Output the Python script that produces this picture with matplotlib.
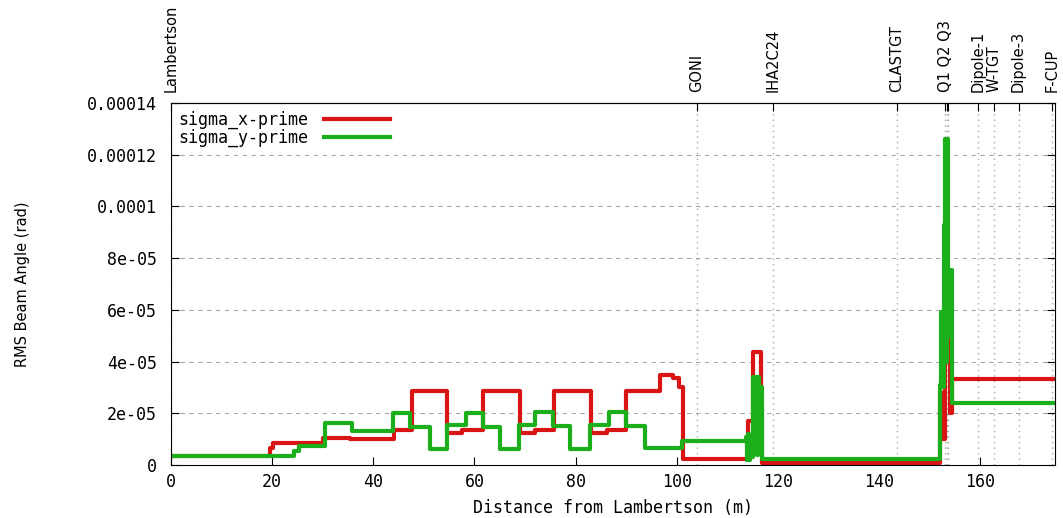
import numpy as np
import matplotlib
matplotlib.use('Agg')
import matplotlib.pyplot as plt

# beamline elements (position along line, m)
elem_names = ['Lambertson', 'GONI', 'IHA2C24', 'CLASTGT', 'Q1 Q2 Q3', '', '',
              'Dipole-1', 'W-TGT', 'Dipole-3', 'F-CUP']
elem_pos = [0.0, 104.0, 119.1, 143.5, 153.1, 153.4, 153.7, 159.5, 162.8, 167.6, 174.2]

# sigma_x-prime, step breakpoints (m) and values (1e-6 rad)
sx_s = [0, 19.6, 20.2, 30.0, 35.4, 44.0, 47.7, 54.6, 57.6, 61.7, 69.0, 72.0, 75.8,
        83.0, 86.2, 89.9, 96.6, 99.2, 100.5, 101.3, 114.0, 115.0, 115.8, 116.6, 116.9,
        152.1, 152.6, 153.0, 154.0, 154.4, 174.8]
sx_v = [3.5, 6.6, 8.5, 10.5, 10.0, 13.5, 28.7, 12.4, 13.5, 28.7, 12.4, 13.5, 28.7,
        12.4, 13.5, 28.7, 35.0, 33.5, 30.0, 2.2, 17.0, 43.7, 43.7, 22.0, 0.8,
        28.0, 10.0, 50.0, 20.0, 33.2, 33.2]

# sigma_y-prime
sy_s = [0, 24.3, 25.3, 30.5, 35.8, 43.9, 47.3, 51.2, 54.6, 58.4, 61.7, 65.0, 68.8,
        72.0, 75.5, 78.9, 82.9, 86.6, 90.0, 93.8, 101.0, 113.7, 113.9, 114.1, 114.3,
        114.5, 114.8, 115.0, 115.3, 115.5, 115.8, 116.0, 116.3, 116.6, 116.8,
        152.1, 152.3, 152.6, 152.75, 153.0, 153.2, 153.4, 153.6, 153.9, 154.4, 174.8]
sy_v = [3.6, 5.5, 7.4, 16.3, 13.2, 20.2, 14.8, 6.2, 15.5, 20.2, 14.8, 6.2, 15.5,
        20.6, 15.0, 6.2, 15.5, 20.6, 15.0, 6.6, 9.4, 11.0, 2.0, 12.0, 2.0,
        11.5, 3.0, 34.2, 5.0, 34.2, 4.0, 34.2, 8.0, 30.0, 2.2,
        31.0, 59.0, 30.0, 93.0, 126.0, 40.0, 126.0, 50.0, 75.5, 23.9, 23.9]

ytick_vals = [0, 2e-5, 4e-5, 6e-5, 8e-5, 1e-4, 1.2e-4, 1.4e-4]
ytick_labels = ['0', '2e-05', '4e-05', '6e-05', '8e-05', '0.0001', '0.00012', '0.00014']

mono = 'DejaVu Sans Mono'

fig = plt.figure(figsize=(10.63, 5.18), dpi=100)
ax = fig.add_axes([0.1609, 0.1023, 0.8316, 0.6988])

# grid
for y in ytick_vals[1:-1]:
    ax.axhline(y, color='#a8a8a8', lw=0.8, ls=(0, (4, 4)), zorder=0)
for p in elem_pos:
    ax.axvline(p, color='#a8a8a8', lw=1.0, ls=(0, (1, 3)), zorder=0)

ax.step(sx_s, np.array(sx_v) * 1e-6, where='post', color='#d81414', lw=3.0,
        label='sigma_x-prime')
ax.step(sy_s, np.array(sy_v) * 1e-6, where='post', color='#1bb01b', lw=3.0,
        label='sigma_y-prime')

ax.set_xlim(0, 174.8)
ax.set_ylim(0, 1.4e-4)
ax.set_xticks(np.arange(0, 161, 20))
ax.set_xticklabels([str(v) for v in range(0, 161, 20)], fontfamily=mono, fontsize=12)
ax.set_yticks(ytick_vals)
ax.set_yticklabels(ytick_labels, fontfamily=mono, fontsize=12)
ax.tick_params(axis='y', direction='in', length=6, right=True, pad=10)
ax.tick_params(axis='x', direction='in', length=6, top=False, pad=6)

ax.set_xlabel('Distance from Lambertson (m)', fontfamily=mono, fontsize=12)
ax.xaxis.set_label_coords(0.5, -0.095)
ax.set_ylabel('RMS Beam Angle (rad)', fontfamily='DejaVu Sans', fontsize=10.5)
ax.yaxis.set_label_coords(-0.160, 0.5)

top = ax.secondary_xaxis('top')
top.set_xticks(elem_pos)
top.set_xticklabels(elem_names, fontfamily='DejaVu Sans', fontsize=10.5, rotation=90)
top.tick_params(direction='in', length=6, pad=8)

leg = ax.legend(loc='upper left', bbox_to_anchor=(0.0, 1.0), frameon=False,
                markerfirst=False, handlelength=4, handletextpad=0.9,
                labelspacing=0.0, borderaxespad=0.05,
                prop={'family': mono, 'size': 12})

fig.savefig('out.png', dpi=100)
